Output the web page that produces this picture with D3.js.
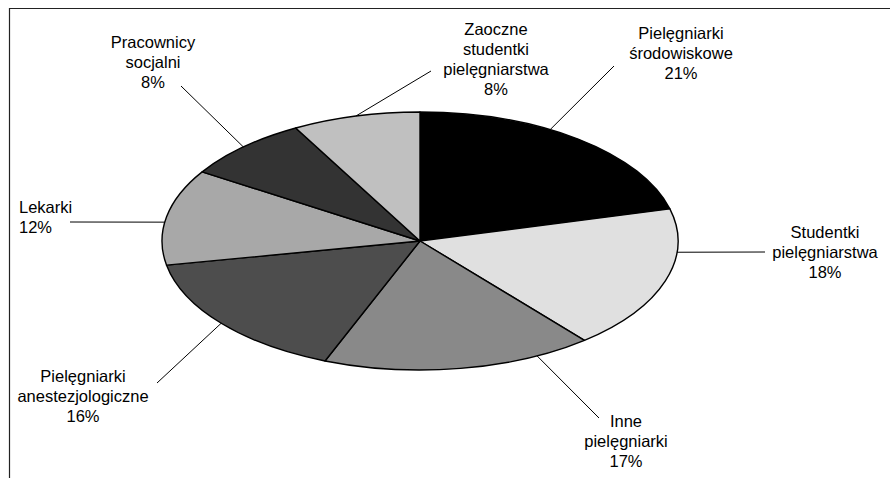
<!DOCTYPE html>
<html>
<head>
<meta charset="utf-8">
<script src="https://cdn.jsdelivr.net/npm/d3@7"></script>
<style>
  body { margin: 0; background: #fff; }
  svg text { font-family: "Liberation Sans", Arial, sans-serif; font-size: 16.5px; fill: #000; }
</style>
</head>
<body>
<div id="chart"></div>
<script>
// categories and values (percent)
var categories = [
    'Pielęgniarki\nśrodowiskowe',
    'Studentki\npielęgniarstwa',
    'Inne\npielęgniarki',
    'Pielęgniarki\nanestezjologiczne',
    'Lekarki',
    'Pracownicy\nsocjalni',
    'Zaoczne\nstudentki\npielęgniarstwa'
];
var values = [21, 18, 17, 16, 12, 8, 8];

var slice_colors = ['#000000', '#e0e0e0', '#898989', '#4d4d4d', '#a8a8a8', '#333333', '#c0c0c0'];

// label layout: text position, text anchor, leader end near the label,
// and shift (deg) of the leader's attach point from the slice middle
var label_layout = [
    { x: 681, y: 39, anchor: 'middle', lx: 614, ly: 66, shift: -7.5 },
    { x: 825, y: 238, anchor: 'middle', lx: 765, ly: 252, shift: -13 },
    { x: 626, y: 427, anchor: 'middle', lx: 599, ly: 418, shift: -18 },
    { x: 83, y: 382, anchor: 'middle', lx: 157, ly: 383, shift: 0 },
    { x: 19, y: 213, anchor: 'start', lx: 70, ly: 222, shift: -2.4 },
    { x: 153, y: 48, anchor: 'middle', lx: 181, ly: 86, shift: 0 },
    { x: 496, y: 35, anchor: 'middle', lx: 431, ly: 71, shift: 0 }
];

var width = 890, height = 478;
var cx = 420, cy = 241;
var rx = 258, ry = 129;
var line_height = 20;

var svg = d3.select('#chart')
    .append('svg')
    .attr('width', width)
    .attr('height', height);

// chart area frame (only top and left edges visible)
svg.append('path')
    .attr('d', `M9.5,${height} V8.5 H${width}`)
    .attr('fill', 'none')
    .attr('stroke', '#222')
    .attr('stroke-width', 1.2);

var data = values.map(function(v, i) { return { name: categories[i], value: v, i: i }; });

var pie = d3.pie()
    .sort(null)
    .value(function(d) { return d.value; });

var arcs = pie(data);

var arc = d3.arc()
    .innerRadius(0)
    .outerRadius(rx);

var pie_group = svg.append('g')
    .attr('transform', `translate(${cx}, ${cy}) scale(1, ${ry / rx})`);

pie_group.selectAll('path.slice')
    .data(arcs)
    .enter()
    .append('path')
    .attr('class', 'slice')
    .attr('d', arc)
    .attr('fill', function(d) { return slice_colors[d.data.i]; })
    .attr('stroke', '#000')
    .attr('stroke-width', 1.4)
    .attr('vector-effect', 'non-scaling-stroke')
    .attr('stroke-linejoin', 'round');

// point on the ellipse edge for an angle (radians, clockwise from top)
function edge_point(a) {
    return [cx + rx * Math.sin(a), cy - ry * Math.cos(a)];
}

var label_group = svg.append('g');

arcs.forEach(function(d, i) {
    var lay = label_layout[i];
    var mid = (d.startAngle + d.endAngle) / 2 + lay.shift * Math.PI / 180;
    var p = edge_point(mid);

    label_group.append('line')
        .attr('x1', lay.lx)
        .attr('y1', lay.ly)
        .attr('x2', p[0])
        .attr('y2', p[1])
        .attr('stroke', '#000')
        .attr('stroke-width', 1);

    var lines = d.data.name.split('\n').concat([d.data.value + '%']);
    var text = label_group.append('text')
        .attr('text-anchor', lay.anchor);
    lines.forEach(function(t, k) {
        text.append('tspan')
            .attr('x', lay.x)
            .attr('y', lay.y + k * line_height)
            .text(t);
    });
});
</script>
</body>
</html>
